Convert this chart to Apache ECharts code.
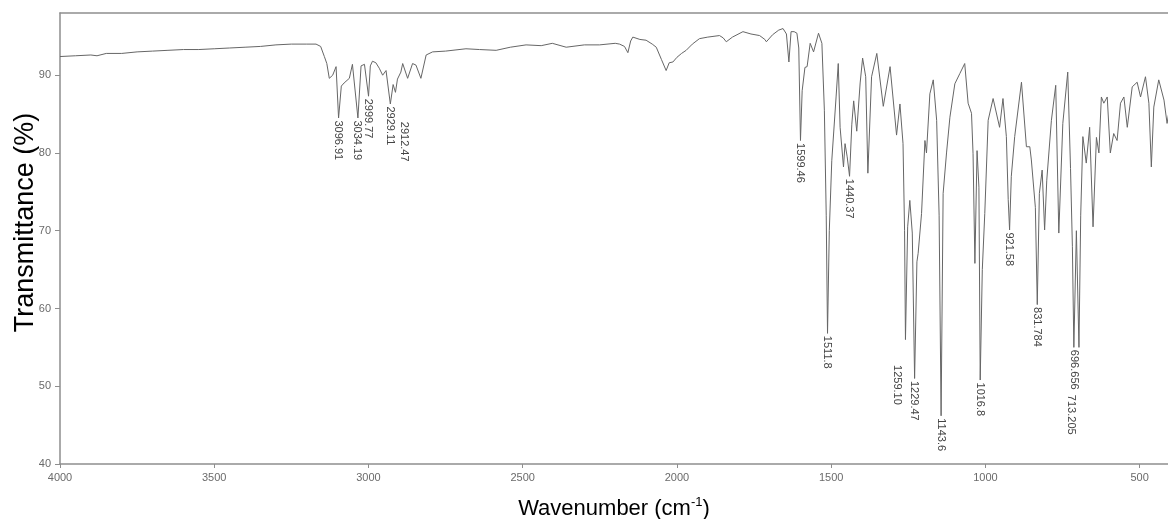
<!DOCTYPE html>
<html>
<head>
<meta charset="utf-8">
<script src="https://cdn.jsdelivr.net/npm/echarts@6/dist/echarts.min.js"></script>
<style>html,body{margin:0;padding:0;background:#fff}#c{width:1168px;height:519px}</style>
</head>
<body>
<div id="c"></div>
<script>
// Wavenumber (cm-1), descending
var wavenumbers = [4000,3950,3900,3880,3850,3800,3750,3700,3650,3600,3550,3500,3450,3400,3350,3300,3250,3200,3170,3155,3143,3135,3127,3116,3105,3096.91,3088,3079,3062,3052,3034.19,3024,3013,2999.77,2994,2987,2976,2965,2954,2943,2929.11,2920,2912.47,2906,2895,2889,2873,2857,2846,2830,2813,2792,2750,2684,2640,2586,2540,2489,2440,2404,2359,2300,2251,2200,2186,2170,2159,2150,2143,2120,2100,2080,2067,2050,2035,2025,2013,2000,1985,1970,1950,1927,1900,1862,1850,1840,1820,1786,1760,1732,1715,1710,1690,1670,1656,1645,1637,1630,1620,1611,1605,1599.46,1594,1585,1578,1568,1557,1541,1530,1522,1516,1511.8,1506,1498,1484,1477,1471,1460,1455,1448,1440.37,1433,1427,1417,1406,1398,1388,1381,1369,1352,1331,1309,1288,1277,1267,1262,1259.1,1252,1245,1237,1229.47,1222,1218,1207,1196,1191,1180,1169,1158,1150,1143.6,1137,1126,1115,1099,1083,1067,1056,1045,1040,1034,1027,1021,1016.8,1010,1002,991,975,954,943,932,926,921.58,916,905,883,867,856,851,846,838,831.784,825,816,808,801,786,772,762,749,733,724,718,713.205,705,696.656,691,684,673,662,651,640,632,624,616,605,595,584,573,562,551,540,524,508,497,481,470,462,454,438,421,411,400];
// Transmittance (%)
var transmittance = [92.4,92.5,92.6,92.5,92.8,92.8,93.0,93.1,93.2,93.3,93.3,93.4,93.5,93.6,93.7,93.9,94.0,94.0,94.0,93.7,92.4,91.5,89.6,90.0,91.1,84.5,88.6,89.0,89.6,91.4,84.5,91.2,91.4,87.3,91.2,91.8,91.6,90.9,90.0,90.6,86.3,88.8,87.8,89.5,90.4,91.5,89.6,91.5,91.3,89.6,92.6,93.0,93.1,93.4,93.3,93.2,93.6,93.9,93.8,94.1,93.6,93.9,93.9,94.1,94.0,93.7,92.9,94.4,94.9,94.6,94.5,94.0,93.6,92.0,90.6,91.6,91.7,92.3,92.8,93.2,94.0,94.7,94.9,95.1,94.8,94.3,94.9,95.6,95.3,95.1,94.6,94.3,95.2,95.8,96.0,95.3,91.7,95.6,95.6,95.4,93.5,81.6,88.0,91.0,91.1,94.1,93.0,95.4,94.1,85.5,72.0,56.8,70.0,79.0,87.2,91.5,83.3,78.2,81.2,79.5,77.0,83.7,86.7,82.8,89.0,92.2,89.8,77.4,89.8,92.8,86.0,91.1,82.3,86.3,81.2,70.0,56.0,70.5,73.9,69.7,51.0,66.0,67.1,72.2,81.6,80.0,87.6,89.4,84.2,72.0,46.2,74.8,80.0,84.6,88.9,90.2,91.5,86.4,85.1,79.9,65.8,80.3,75.6,50.8,65.0,72.2,84.2,87.0,83.3,87.0,82.1,74.0,70.1,77.0,82.1,89.1,80.8,80.8,79.1,79.1,73.0,60.5,74.8,77.8,70.1,76.5,84.2,88.7,69.7,83.8,90.4,78.0,68.0,55.0,70.0,55.0,72.0,82.1,78.7,83.3,70.5,82.0,80.0,87.2,86.4,87.2,80.0,82.5,81.6,86.4,87.2,83.3,88.5,89.1,87.2,89.8,86.4,78.2,85.9,89.4,86.8,83.8,86.5];
// Labelled peaks
var peakLabels = ['3096.91','3034.19','2999.77','2929.11','2912.47','1599.46','1511.8','1440.37','1259.10','1229.47','1143.6','1016.8','921.58','831.784','713.205','696.656'];
var peakWavenumbers = [3096.91,3034.19,2999.77,2929.11,2912.47,1599.46,1511.8,1440.37,1259.1,1229.47,1143.6,1016.8,921.58,831.784,713.205,696.656];
var xTicks = [500,1000,1500,2000,2500,3000,3500,4000];
var yTicks = [40,50,60,70,80,90];

var labelShift = {'2912.47':[9,30],'1259.10':[-8,26],'713.205':[-2,48],'696.656':[-4,3]};

var seriesData = wavenumbers.map(function(w,i){return [w, transmittance[i]];});
var peakData = peakLabels.map(function(lbl,i){
  var w = peakWavenumbers[i];
  var idx = wavenumbers.indexOf(w);
  var item = {name: lbl, coord: [w, transmittance[idx]]};
  item.label = {position: labelShift[lbl] || [0,3]};
  return item;
});

var font = 'Liberation Sans, Arial, sans-serif';
var axisCol = '#8e8e8e';
var plain = function(v){ return String(v); };
var chart = echarts.init(document.getElementById('c'), null, {renderer:'canvas'});
chart.setOption({
  animation: false,
  backgroundColor: '#fff',
  textStyle: {fontFamily: font},
  grid: {left: 60, right: 0, top: 13, bottom: 55, containLabel: false, outerBoundsMode: 'none'},
  xAxis: [{
    type: 'value', inverse: true, min: 408, max: 4000,
    name: '{a|Wavenumber (cm}{s|-1}{a|)}',
    nameLocation: 'middle', nameGap: 32, nameMoveOverlap: false,
    nameTextStyle: {rich: {a: {fontSize: 22, color: '#000', fontFamily: font, lineHeight: 26}, s: {fontSize: 13, color: '#000', fontFamily: font, lineHeight: 13, verticalAlign: 'top'}}},
    axisLine: {show: true, onZero: false, lineStyle: {color: axisCol, width: 1.5}},
    axisTick: {show: true, length: 4, customValues: xTicks, lineStyle: {color: axisCol}},
    axisLabel: {customValues: xTicks, formatter: plain, color: '#6a6a6a', fontSize: 11, margin: 8, fontFamily: font},
    splitLine: {show: false}
  },{
    type: 'value', inverse: true, min: 408, max: 4000, position: 'top',
    axisLine: {show: true, onZero: false, lineStyle: {color: axisCol, width: 1.5}},
    axisTick: {show: false}, axisLabel: {show: false}, splitLine: {show: false}
  }],
  yAxis: {
    type: 'value', min: 40, max: 98,
    name: 'Transmittance (%)', nameLocation: 'middle', nameGap: 21, nameRotate: 90, nameMoveOverlap: false,
    nameTextStyle: {fontSize: 27, color: '#000', fontFamily: font, padding: [0, 0, 0, 32]},
    axisLine: {show: true, onZero: false, lineStyle: {color: axisCol, width: 1.5}},
    axisTick: {show: true, length: 5, customValues: yTicks, lineStyle: {color: axisCol}},
    axisLabel: {customValues: yTicks, formatter: plain, color: '#6a6a6a', fontSize: 11, margin: 9, fontFamily: font},
    splitLine: {show: false}
  },
  series: [{
    type: 'line', data: seriesData, xAxisIndex: 0,
    showSymbol: false, symbol: 'none', smooth: false,
    lineStyle: {color: '#666', width: 1},
    markPoint: {
      symbol: 'circle', symbolSize: 1,
      itemStyle: {color: 'rgba(0,0,0,0)'},
      label: {show: true, formatter: '{b}', rotate: -90, align: 'left', verticalAlign: 'middle', fontSize: 11, color: '#444', fontFamily: font},
      data: peakData
    }
  }]
});
</script>
</body>
</html>
